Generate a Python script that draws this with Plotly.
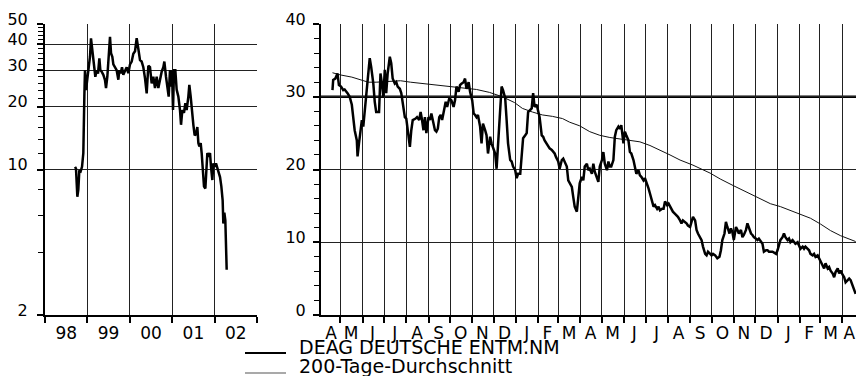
import plotly.graph_objects as go

# ---------------- Left panel (log scale, 1998-2002) ----------------
left_years = [
    1998.708, 1998.731, 1998.763, 1998.786, 1998.810, 1998.841, 1998.873, 1998.904, 1998.928, 1998.943,
    1998.967, 1998.998, 1999.030, 1999.061, 1999.085, 1999.116, 1999.140, 1999.164, 1999.187, 1999.219,
    1999.250, 1999.282, 1999.305, 1999.337, 1999.376, 1999.415, 1999.439, 1999.470, 1999.494, 1999.517,
    1999.533, 1999.557, 1999.588, 1999.612, 1999.651, 1999.690, 1999.730, 1999.753, 1999.785, 1999.816,
    1999.847, 1999.887, 1999.926, 1999.965, 2000.005, 2000.044, 2000.083, 2000.123, 2000.162, 2000.201,
    2000.241, 2000.280, 2000.319, 2000.359, 2000.398, 2000.437, 2000.476, 2000.516, 2000.555, 2000.594,
    2000.634, 2000.673, 2000.712, 2000.752, 2000.791, 2000.815, 2000.854, 2000.885, 2000.917, 2000.948,
    2000.972, 2000.995, 2001.019, 2001.043, 2001.074, 2001.105, 2001.145, 2001.184, 2001.208, 2001.239,
    2001.278, 2001.310, 2001.341, 2001.381, 2001.404, 2001.436, 2001.467, 2001.499, 2001.530, 2001.562,
    2001.593, 2001.617, 2001.640, 2001.672, 2001.695, 2001.719, 2001.750, 2001.782, 2001.805, 2001.829,
    2001.860, 2001.892, 2001.915, 2001.947, 2001.970, 2002.002, 2002.033, 2002.065, 2002.096, 2002.128,
    2002.159, 2002.190, 2002.206, 2002.230, 2002.253, 2002.269, 2002.285,
]
left_values = [
    10.3, 10.1, 7.4, 8.0, 9.9, 9.8, 10.3, 12.0, 22.4, 30.0,
    24.1, 26.9, 30.0, 34.8, 42.7, 37.5, 33.5, 30.0, 27.9, 30.0,
    28.9, 34.2, 30.0, 29.5, 28.5, 26.9, 24.6, 27.9, 32.0, 37.5,
    43.4, 36.2, 34.8, 32.0, 31.0, 30.0, 27.0, 30.0, 29.0, 31.0,
    28.5, 30.0, 31.0, 29.0, 32.0, 33.0, 36.0, 37.0, 42.7, 38.0,
    33.5, 33.0, 31.0, 27.4, 23.2, 31.5, 31.0, 25.9, 27.9, 24.6,
    27.9, 24.6, 27.0, 29.5, 31.0, 33.0, 27.9, 25.0, 22.4, 30.0,
    25.0, 30.0, 19.3, 30.0, 30.0, 24.2, 22.4, 19.3, 16.4, 19.3,
    18.7, 20.8, 19.3, 22.4, 25.5, 22.4, 18.7, 16.4, 14.6, 14.8,
    16.0, 13.4, 12.9, 13.4, 12.0, 9.6, 8.3, 8.1, 9.9, 12.0,
    11.5, 12.0, 10.3, 8.9, 10.7, 10.3, 10.7, 10.1, 9.8, 9.2,
    8.3, 7.1, 5.5, 6.2, 5.7, 4.25, 3.3,
]
year_ticks = [1998.5, 1999.5, 2000.5, 2001.5, 2002.5]
year_labels = ["98", "99", "00", "01", "02"]
year_bounds = [1998, 1999, 2000, 2001, 2002, 2003]
left_major = [2, 10, 20, 30, 40, 50]
left_minor = [4, 6, 8, 12, 14, 16, 18, 22, 24, 26, 28, 32, 34, 36, 38, 42, 44, 46, 48]

# ---------------- Right panel (linear, Apr 2000 - Apr 2002) ----------------
price_dates = [
    "2000-04-20", "2000-04-21", "2000-04-24", "2000-04-27", "2000-04-29", "2000-05-02", "2000-05-05", "2000-05-07",
    "2000-05-11", "2000-05-14", "2000-05-17", "2000-05-19", "2000-05-21", "2000-05-24", "2000-05-25", "2000-05-27",
    "2000-05-29", "2000-05-31", "2000-06-02", "2000-06-04", "2000-06-07", "2000-06-09", "2000-06-11", "2000-06-13",
    "2000-06-16", "2000-06-18", "2000-06-20", "2000-06-24", "2000-06-26", "2000-06-28", "2000-06-30", "2000-07-02",
    "2000-07-04", "2000-07-06", "2000-07-09", "2000-07-11", "2000-07-13", "2000-07-16", "2000-07-18", "2000-07-20",
    "2000-07-23", "2000-07-25", "2000-07-27", "2000-07-30", "2000-08-01", "2000-08-03", "2000-08-06", "2000-08-08",
    "2000-08-10", "2000-08-14", "2000-08-16", "2000-08-19", "2000-08-21", "2000-08-23", "2000-08-25", "2000-08-27",
    "2000-08-29", "2000-09-01", "2000-09-03", "2000-09-05", "2000-09-07", "2000-09-10", "2000-09-12", "2000-09-14",
    "2000-09-16", "2000-09-18", "2000-09-20", "2000-09-23", "2000-09-25", "2000-09-27", "2000-09-30", "2000-10-03",
    "2000-10-06", "2000-10-08", "2000-10-10", "2000-10-13", "2000-10-15", "2000-10-17", "2000-10-20", "2000-10-22",
    "2000-10-24", "2000-10-27", "2000-10-29", "2000-11-01", "2000-11-03", "2000-11-05", "2000-11-07", "2000-11-09",
    "2000-11-12", "2000-11-14", "2000-11-16", "2000-11-19", "2000-11-21", "2000-11-23", "2000-11-26", "2000-11-28",
    "2000-11-30", "2000-12-03", "2000-12-05", "2000-12-07", "2000-12-10", "2000-12-12", "2000-12-14", "2000-12-17",
    "2000-12-19", "2000-12-21", "2000-12-24", "2000-12-26", "2000-12-28", "2000-12-31", "2001-01-02", "2001-01-04",
    "2001-01-07", "2001-01-09", "2001-01-11", "2001-01-14", "2001-01-16", "2001-01-18", "2001-01-21", "2001-01-23",
    "2001-01-25", "2001-01-27", "2001-01-30", "2001-02-01", "2001-02-03", "2001-02-06", "2001-02-08", "2001-02-10",
    "2001-02-13", "2001-02-15", "2001-02-17", "2001-02-20", "2001-02-22", "2001-02-24", "2001-02-26", "2001-03-01",
    "2001-03-03", "2001-03-06", "2001-03-08", "2001-03-10", "2001-03-13", "2001-03-15", "2001-03-17", "2001-03-20",
    "2001-03-22", "2001-03-24", "2001-03-27", "2001-03-29", "2001-03-31", "2001-04-03", "2001-04-05", "2001-04-07",
    "2001-04-10", "2001-04-12", "2001-04-14", "2001-04-17", "2001-04-19", "2001-04-21", "2001-04-24", "2001-04-26",
    "2001-04-28", "2001-05-01", "2001-05-03", "2001-05-05", "2001-05-08", "2001-05-10", "2001-05-12", "2001-05-14",
    "2001-05-17", "2001-05-19", "2001-05-21", "2001-05-24", "2001-05-26", "2001-05-28", "2001-05-31", "2001-06-02",
    "2001-06-04", "2001-06-07", "2001-06-09", "2001-06-11", "2001-06-14", "2001-06-16", "2001-06-18", "2001-06-21",
    "2001-06-23", "2001-06-25", "2001-06-28", "2001-06-30", "2001-07-03", "2001-07-05", "2001-07-07", "2001-07-10",
    "2001-07-12", "2001-07-14", "2001-07-17", "2001-07-19", "2001-07-21", "2001-07-24", "2001-07-26", "2001-07-28",
    "2001-07-31", "2001-08-02", "2001-08-04", "2001-08-06", "2001-08-08", "2001-08-11", "2001-08-13", "2001-08-15",
    "2001-08-18", "2001-08-20", "2001-08-22", "2001-08-25", "2001-08-27", "2001-08-29", "2001-09-01", "2001-09-03",
    "2001-09-05", "2001-09-08", "2001-09-10", "2001-09-12", "2001-09-15", "2001-09-17", "2001-09-19", "2001-09-22",
    "2001-09-24", "2001-09-26", "2001-09-29", "2001-10-01", "2001-10-03", "2001-10-06", "2001-10-09", "2001-10-12",
    "2001-10-14", "2001-10-16", "2001-10-19", "2001-10-21", "2001-10-23", "2001-10-26", "2001-10-28", "2001-10-30",
    "2001-11-01", "2001-11-04", "2001-11-06", "2001-11-08", "2001-11-11", "2001-11-13", "2001-11-15", "2001-11-18",
    "2001-11-20", "2001-11-22", "2001-11-25", "2001-11-27", "2001-11-29", "2001-12-02", "2001-12-04", "2001-12-06",
    "2001-12-09", "2001-12-11", "2001-12-13", "2001-12-16", "2001-12-18", "2001-12-20", "2001-12-25", "2001-12-30",
    "2002-01-01", "2002-01-03", "2002-01-05", "2002-01-08", "2002-01-10", "2002-01-12", "2002-01-15", "2002-01-17",
    "2002-01-19", "2002-01-22", "2002-01-24", "2002-01-26", "2002-01-29", "2002-01-31", "2002-02-02", "2002-02-05",
    "2002-02-07", "2002-02-09", "2002-02-12", "2002-02-14", "2002-02-16", "2002-02-19", "2002-02-21", "2002-02-23",
    "2002-02-26", "2002-02-28", "2002-03-02", "2002-03-05", "2002-03-07", "2002-03-09", "2002-03-12", "2002-03-14",
    "2002-03-16", "2002-03-19", "2002-03-21", "2002-03-23", "2002-03-26", "2002-03-28", "2002-03-30", "2002-04-02",
    "2002-04-04", "2002-04-06", "2002-04-09", "2002-04-11", "2002-04-13", "2002-04-15", "2002-04-18", "2002-04-20",
]
price_values = [
    30.9, 32.3, 32.5, 33.2, 31.6, 31.4, 30.9, 31.0,
    30.5, 30.0, 28.9, 27.2, 25.4, 24.0, 21.8, 23.6,
    25.4, 26.8, 25.9, 28.2, 31.4, 34.1, 35.3, 34.1,
    31.8, 29.3, 27.9, 27.9, 33.2, 31.8, 30.0, 33.7,
    30.5, 33.2, 35.5, 34.6, 32.5, 31.8, 32.0, 31.4,
    31.1, 30.5, 29.1, 27.2, 27.0, 25.4, 23.1, 25.4,
    26.8, 27.0, 27.2, 26.8, 27.9, 26.8, 25.4, 27.2,
    25.0, 27.2, 26.8, 27.7, 26.8, 25.4, 25.2, 25.6,
    27.2, 27.5, 26.8, 28.2, 29.3, 28.6, 29.8, 29.5,
    28.6, 29.5, 31.4, 30.7, 31.6, 31.8, 32.0, 32.5,
    31.1, 32.0, 30.7, 29.5, 27.7, 27.5, 27.2, 27.5,
    25.9, 23.6, 26.3, 25.4, 24.7, 22.2, 24.5, 23.6,
    23.1, 22.2, 20.1, 23.1, 28.2, 31.4, 30.9, 29.8,
    26.8, 23.6, 21.3, 21.1, 20.4, 19.9, 18.8, 19.4,
    19.4, 22.2, 24.3, 24.7, 25.0, 27.9, 28.2, 28.4,
    30.5, 28.6, 28.9, 28.2, 27.2, 24.7, 24.5, 24.0,
    23.6, 23.3, 22.9, 22.7, 22.4, 22.2, 21.7, 21.1,
    20.1, 21.3, 21.5, 21.1, 20.4, 18.5, 18.1, 17.6,
    16.2, 14.9, 14.2, 16.2, 18.1, 19.0, 18.5, 20.4,
    20.8, 19.9, 20.1, 19.4, 20.8, 19.7, 19.0, 18.3,
    20.4, 21.3, 22.4, 20.8, 19.9, 21.1, 20.4, 20.4,
    21.3, 24.5, 25.4, 25.9, 25.6, 26.1, 23.6, 25.2,
    24.7, 24.0, 22.4, 22.2, 21.3, 20.4, 19.4, 19.9,
    19.2, 19.0, 18.5, 18.8, 18.1, 17.4, 16.7, 15.6,
    14.9, 15.1, 14.6, 14.9, 14.4, 14.6, 14.6, 15.6,
    15.1, 15.3, 14.9, 14.4, 14.2, 13.9, 13.7, 13.5,
    13.0, 12.6, 13.0, 12.8, 12.6, 12.3, 12.1, 12.8,
    13.5, 13.0, 11.7, 11.2, 10.7, 10.3, 9.4, 8.4,
    8.2, 8.7, 8.4, 8.2, 8.4, 8.2, 7.8, 8.0,
    8.9, 10.3, 11.2, 12.8, 12.1, 11.2, 11.9, 11.4,
    10.3, 12.1, 11.7, 11.2, 11.7, 10.7, 11.0, 11.7,
    12.6, 11.9, 11.2, 11.0, 10.7, 10.5, 10.3, 10.5,
    10.0, 9.8, 8.7, 8.9, 8.9, 8.7, 8.7, 8.4,
    8.9, 9.8, 10.3, 10.7, 11.2, 10.7, 10.3, 10.5,
    10.0, 10.3, 10.0, 9.8, 10.0, 9.4, 9.1, 9.4,
    9.1, 9.4, 9.1, 8.9, 8.4, 8.2, 8.4, 8.0,
    8.2, 7.8, 7.5, 6.8, 6.4, 7.1, 6.4, 6.6,
    6.1, 5.7, 5.2, 5.9, 6.4, 5.7, 6.1, 5.5,
    5.2, 4.5, 4.8, 5.0, 4.8, 4.3, 3.6, 2.9,
]
ma_dates = [
    "2000-04-20", "2000-05-01", "2000-05-17", "2000-05-31", "2000-06-09", "2000-06-20", "2000-07-24", "2000-08-07",
    "2000-09-03", "2000-10-03", "2000-11-07", "2000-11-25", "2000-12-13", "2000-12-30", "2001-01-10", "2001-01-24",
    "2001-02-07", "2001-02-21", "2001-03-07", "2001-03-17", "2001-03-31", "2001-04-14", "2001-04-28", "2001-05-12",
    "2001-05-26", "2001-06-23", "2001-07-07", "2001-07-21", "2001-08-04", "2001-08-18", "2001-09-05", "2001-09-29",
    "2001-10-13", "2001-10-31", "2001-11-17", "2001-12-04", "2001-12-22", "2002-01-05", "2002-01-19", "2002-02-02",
    "2002-02-16", "2002-03-02", "2002-03-16", "2002-03-30", "2002-04-13", "2002-04-20",
]
ma_values = [
    33.3, 33.0, 32.7, 32.3, 32.0, 32.0, 32.2, 32.0,
    31.7, 31.4, 31.0, 30.6, 30.0, 29.2, 28.4, 27.9,
    27.5, 27.3, 27.0, 26.5, 26.0, 25.2, 24.7, 24.4,
    24.2, 23.8, 23.3, 22.7, 22.0, 21.3, 20.6, 19.5,
    18.7, 17.8, 17.0, 16.1, 15.3, 14.9, 14.4, 13.9,
    13.3, 12.5, 11.6, 10.9, 10.4, 10.1,
]
month_label_dates = [
    "2000-04-18", "2000-05-16", "2000-06-15", "2000-07-16", "2000-08-16", "2000-09-15", "2000-10-16", "2000-11-15",
    "2000-12-16", "2001-01-16", "2001-02-14", "2001-03-16", "2001-04-15", "2001-05-16", "2001-06-15", "2001-07-16",
    "2001-08-16", "2001-09-15", "2001-10-16", "2001-11-15", "2001-12-16", "2002-01-16", "2002-02-14", "2002-03-16",
    "2002-04-11",
]
month_labels = list("AMJJASONDJFMAMJJASONDJFMA")
month_starts = [
    "2000-05-01", "2000-06-01", "2000-07-01", "2000-08-01", "2000-09-01", "2000-10-01", "2000-11-01", "2000-12-01",
    "2001-01-01", "2001-02-01", "2001-03-01", "2001-04-01", "2001-05-01", "2001-06-01", "2001-07-01", "2001-08-01",
    "2001-09-01", "2001-10-01", "2001-11-01", "2001-12-01", "2002-01-01", "2002-02-01", "2002-03-01", "2002-04-01",
]
right_major = [0, 10, 20, 30, 40]
legend_names = ["DEAG DEUTSCHE ENTM.NM", "200-Tage-Durchschnitt"]

W, H = 856, 376
FONT = "DejaVu Sans"
top_px, bot_px = 24, 315
ydom = [1 - bot_px / H, 1 - top_px / H]

fig = go.Figure()
fig.add_trace(go.Scatter(x=left_years, y=left_values, mode="lines",
                         line=dict(color="black", width=2.5), xaxis="x", yaxis="y",
                         showlegend=False))
fig.add_trace(go.Scatter(x=ma_dates, y=ma_values, mode="lines",
                         line=dict(color="#111", width=1), xaxis="x2", yaxis="y2",
                         name=legend_names[1], showlegend=False))
fig.add_trace(go.Scatter(x=price_dates, y=price_values, mode="lines",
                         line=dict(color="black", width=2.5), xaxis="x2", yaxis="y2",
                         name=legend_names[0], showlegend=False))

grid = "#222"
fig.update_layout(
    template="none",
    width=W, height=H, margin=dict(l=0, r=0, t=0, b=0, pad=0),
    paper_bgcolor="white", plot_bgcolor="white",
    font=dict(family=FONT, color="black"),
    xaxis=dict(
        domain=[45 / W, 257 / W], range=[1998, 2003], anchor="y", automargin=False,
        tickmode="array", tickvals=year_ticks, ticktext=year_labels, ticks="",
        showgrid=False, zeroline=False, showline=True, linecolor="black", linewidth=2,
        tickfont=dict(family=FONT, size=17), ticklabelstandoff=2,
        minor=dict(tickmode="array", tickvals=year_bounds, ticks="outside", ticklen=6,
                   tickwidth=1.5, tickcolor="black", showgrid=True, gridcolor=grid, gridwidth=1),
    ),
    yaxis=dict(
        domain=ydom, type="log", range=[0.30103, 1.69897], anchor="x", automargin=False,
        tickmode="array", tickvals=left_major, ticktext=[str(v) for v in left_major],
        ticks="outside", ticklen=6, tickwidth=1.5, tickcolor="black",
        showgrid=True, gridcolor=grid, gridwidth=1, zeroline=False,
        showline=True, linecolor="black", linewidth=2,
        tickfont=dict(family=FONT, size=16), ticklabelshift=-5, ticklabelstandoff=6,
        minor=dict(tickmode="array", tickvals=left_minor, ticks="outside", ticklen=5,
                   tickwidth=1, tickcolor="black", showgrid=False),
    ),
    xaxis2=dict(
        domain=[321 / W, 1.0], type="date", range=["2000-04-04", "2002-04-20 12:00"], anchor="y2",
        automargin=False,
        tickmode="array", tickvals=month_label_dates, ticktext=month_labels, ticks="",
        showgrid=False, zeroline=False, showline=True, linecolor="black", linewidth=2,
        tickfont=dict(family=FONT, size=17), ticklabelstandoff=2,
        minor=dict(tickmode="array", tickvals=month_starts, ticks="outside", ticklen=6,
                   tickwidth=1.5, tickcolor="black", showgrid=True, gridcolor=grid, gridwidth=1),
    ),
    yaxis2=dict(
        domain=ydom, range=[0, 40], anchor="x2", automargin=False,
        tickmode="array", tickvals=right_major, ticktext=[str(v) for v in right_major],
        ticks="outside", ticklen=6, tickwidth=1.5, tickcolor="black",
        showgrid=True, gridcolor=grid, gridwidth=1, zeroline=False,
        showline=True, linecolor="black", linewidth=2,
        tickfont=dict(family=FONT, size=16), ticklabelshift=-5, ticklabelstandoff=4,
        minor=dict(dtick=2, ticks="outside", ticklen=5, tickwidth=1, tickcolor="black", showgrid=False),
    ),
)

# emphasised 30 reference line on right panel
fig.add_shape(type="line", xref="x2 domain", yref="y2", x0=0, x1=1, y0=30, y1=30,
              line=dict(color="black", width=2.5), layer="below")

# legend (samples drawn as underlines like the original)
leg_rows = [(353, 2.2, "black", 6), (373, 1.2, "#555", 7)]
for (ypx, lw, col, up), name in zip(leg_rows, legend_names):
    fig.add_shape(type="line", xref="paper", yref="paper",
                  x0=245 / W, x1=286 / W, y0=1 - ypx / H, y1=1 - ypx / H,
                  line=dict(color=col, width=lw))
    fig.add_annotation(x=297 / W, y=1 - (ypx - up) / H, xref="paper", yref="paper",
                       text=name, showarrow=False, xanchor="left", yanchor="middle",
                       font=dict(family=FONT, size=19, color="black"))

fig.write_html("out.html", config={"displayModeBar": False},
               post_script="document.body.style.margin='0px';document.body.style.overflow='hidden';")
